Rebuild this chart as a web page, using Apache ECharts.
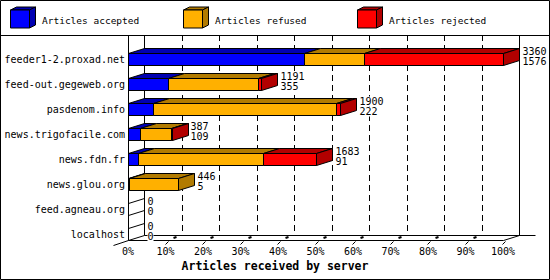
<!DOCTYPE html>
<html><head><meta charset="utf-8">
<script src="https://cdn.jsdelivr.net/npm/echarts@6/dist/echarts.min.js"></script>
<style>html,body{margin:0;padding:0;background:#fff}#c{width:550px;height:280px}</style>
</head><body><div id="c"></div>
<script>
// ---- data ----
const categories = ['feeder1-2.proxad.net','feed-out.gegeweb.org','pasdenom.info','news.trigofacile.com','news.fdn.fr','news.glou.org','feed.agneau.org','localhost'];
const accepted = [1576, 355, 222, 109, 91, 5, 0, 0];
const refused  = [541, 813, 1643, 275, 1116, 441, 0, 0];
const rejected = [1243, 23, 35, 3, 476, 0, 0, 0];
const totals   = [3360, 1191, 1900, 387, 1683, 446, 0, 0];
const seriesNames = ['Articles accepted', 'Articles refused', 'Articles rejected'];
const tickLabels = ['0%','10%','20%','30%','40%','50%','60%','70%','80%','90%','100%'];
const axisTitle = 'Articles received by server';

// ---- style ----
const FRONT = ['#0000ff', '#ffb000', '#ff0000'];
const DARK  = ['#0000b2', '#b27b00', '#b20000'];
const FONT = "'DejaVu Sans Mono', monospace";
const DX = 16, DY = 5, BH = 12, TOPY = 35;
const px = v => Math.round(v) + 0.5;
const LINE = {stroke: '#000', lineWidth: 1, fill: 'none'};

const maxVal = Math.max(...totals);
const interval = maxVal / 10;
const segs = [accepted, refused, rejected];

function segData(si) {
  return categories.map((c, i) => {
    let start = 0;
    for (let k = 0; k < si; k++) start += segs[k][i];
    const end = start + segs[si][i];
    let last = -1;
    for (let k = 0; k < 3; k++) if (segs[k][i] > 0) last = k;
    return [i, start, end, last === si ? 1 : 0];
  });
}

function segRender(si) {
  return function (params, api) {
    const cat = api.value(0), s = api.value(1), e = api.value(2), isLast = api.value(3);
    const children = [];
    if (e - s > 0) {
      const a = api.coord([s, cat]), b = api.coord([e, cat]);
      const x0 = px(a[0]), x1 = Math.max(px(b[0]), x0 + 1);
      const yT = px(a[1] - BH / 2), yB = yT + BH;
      children.push({type: 'rect', shape: {x: x0, y: yT, width: x1 - x0, height: BH},
        style: {fill: FRONT[si], stroke: '#000', lineWidth: 1}});
      children.push({type: 'polygon', shape: {points: [[x0, yT], [x0 + DX, yT - DY], [x1 + DX, yT - DY], [x1, yT]]},
        style: {fill: DARK[si], stroke: '#000', lineWidth: 1}});
      if (isLast) children.push({type: 'polygon', shape: {points: [[x1, yT], [x1 + DX, yT - DY], [x1 + DX, yB - DY], [x1, yB]]},
        style: {fill: DARK[si], stroke: '#000', lineWidth: 1}});
    }
    return {type: 'group', children};
  };
}

function labelRender(params, api) {
  const cat = api.value(0), tot = api.value(1), acc = api.value(2);
  const p = api.coord([tot, cat]);
  const x = px(p[0]);
  const yT = px(p[1] - BH / 2), yB = yT + BH;
  const children = [];
  if (tot === 0) {
    children.push({type: 'line', shape: {x1: x, y1: yT, x2: x + DX, y2: yT - DY}, style: LINE});
    children.push({type: 'line', shape: {x1: x, y1: yB, x2: x + DX, y2: yB - DY}, style: LINE});
  }
  const tx = x + DX + 3;
  const ts = {verticalAlign: 'middle', align: 'left', font: '10px ' + FONT, fill: '#000', backgroundColor: '#fff'};
  children.push({type: 'text', style: Object.assign({text: String(tot), x: tx, y: yT - 2}, ts)});
  children.push({type: 'text', style: Object.assign({text: String(acc), x: tx, y: yT + 8}, ts)});
  return {type: 'group', children};
}

function frameRender(params, api) {
  const n = categories.length;
  const o = api.coord([0, n - 1]);
  const m = api.coord([maxVal, n - 1]);
  const yF = px(o[1] + BH / 2);
  const xL = px(o[0]), xR = px(m[0]);
  const ch = [];
  // back plane
  ch.push({type: 'polyline', shape: {points: [[xL + DX, TOPY], [xL + DX, yF - DY], [xR + DX + DX, yF - DY]]}, style: LINE});
  ch.push({type: 'line', shape: {x1: xR + DX, y1: TOPY, x2: xR + DX, y2: yF - DY}, style: LINE});
  // dashed grid lines on back plane
  for (let k = 1; k < 10; k++) {
    const x = px(api.coord([k * interval, n - 1])[0] + DX);
    ch.push({type: 'line', shape: {x1: x, y1: TOPY, x2: x, y2: yF - DY}, style: {stroke: '#000', lineWidth: 1, fill: 'none', lineDash: [6, 4]}});
  }
  // front walls
  ch.push({type: 'line', shape: {x1: xL, y1: TOPY, x2: xL, y2: yF}, style: LINE});
  ch.push({type: 'polyline', shape: {points: [[xL - DX + 1, yF + DY], [xL, yF], [xR, yF], [xR + DX, yF - DY]]}, style: LINE});
  // 3D ticks
  for (let k = 1; k <= 10; k++) {
    const x = px(api.coord([k * interval, n - 1])[0]);
    ch.push({type: 'line', shape: {x1: x - 1, y1: yF + 4, x2: x + 2, y2: yF + 1}, style: LINE});
    if (k < 10) ch.push({type: 'line', shape: {x1: x + 7, y1: yF - 2.5, x2: x + 10, y2: yF - 3.5}, style: {stroke: '#000', lineWidth: 2, fill: 'none'}});
  }
  return {type: 'group', children: ch};
}

function legendItem(i, x) {
  const y = 10, w = 19, h = 18, dx = 6, dy = 3;
  return {
    type: 'group', children: [
      {type: 'polygon', shape: {points: [[x, y], [x + dx, y - dy], [x + w + dx, y - dy], [x + w, y]]}, style: {fill: DARK[i], stroke: '#000', lineWidth: 1}},
      {type: 'polygon', shape: {points: [[x + w, y], [x + w + dx, y - dy], [x + w + dx, y + h - dy], [x + w, y + h]]}, style: {fill: DARK[i], stroke: '#000', lineWidth: 1}},
      {type: 'rect', shape: {x: x, y: y, width: w, height: h}, style: {fill: FRONT[i], stroke: '#000', lineWidth: 1}},
      {type: 'text', style: {text: seriesNames[i], x: x + 31.5, y: 20, verticalAlign: 'middle', font: '9.5px ' + FONT, fill: '#000'}}
    ]
  };
}

const chart = echarts.init(document.getElementById('c'), null, {renderer: 'svg'});
chart.setOption({
  animation: false,
  backgroundColor: '#fff',
  title: {text: axisTitle, left: 'center', top: 260, padding: 0,
    textStyle: {fontFamily: FONT, fontSize: 11.5, fontWeight: 'bold', color: '#000'}},
  grid: {left: 128, right: 47, top: 46.5, bottom: 33.5},
  xAxis: {type: 'value', min: 0, max: maxVal, interval: interval,
    axisLine: {show: false}, axisTick: {show: false}, splitLine: {show: false},
    axisLabel: {margin: 0, fontFamily: FONT, fontSize: 10, color: '#000',
      formatter: v => tickLabels[Math.round(v / interval)]}},
  yAxis: {type: 'category', data: categories, inverse: true,
    axisLine: {show: false}, axisTick: {show: false}, splitLine: {show: false},
    axisLabel: {margin: 3, fontFamily: FONT, fontSize: 10, color: '#000'}},
  graphic: [
    {type: 'rect', shape: {x: 0.5, y: 0.5, width: 549, height: 279}, style: {fill: 'none', stroke: '#000', lineWidth: 1}, silent: true},
    {type: 'line', shape: {x1: 0, y1: TOPY + 0.5, x2: 550, y2: TOPY + 0.5}, style: LINE},
    legendItem(0, 10.5), legendItem(1, 183.5), legendItem(2, 357.5)
  ],
  series: [
    {type: 'custom', name: 'frame', z: 1, renderItem: frameRender, data: [[0]], silent: true},
    ...[0, 1, 2].map(si => ({type: 'custom', name: seriesNames[si], z: 2, renderItem: segRender(si),
      encode: {x: [1, 2], y: 0}, data: segData(si)})),
    {type: 'custom', name: 'labels', z: 3, renderItem: labelRender,
      encode: {x: 1, y: 0}, data: categories.map((c, i) => [i, totals[i], accepted[i]])}
  ]
});
</script></body></html>
